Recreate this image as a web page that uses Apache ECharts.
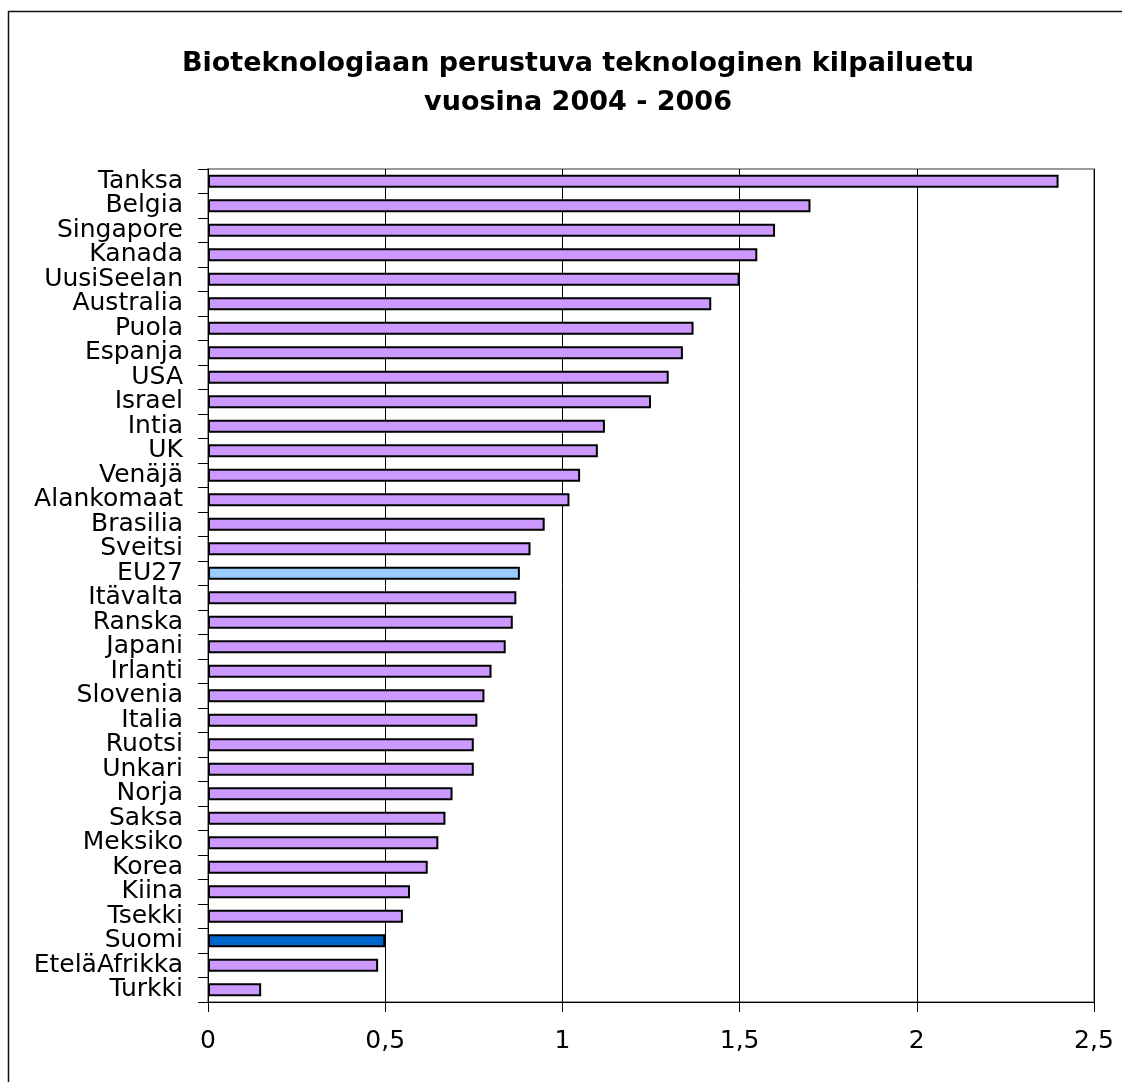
<!DOCTYPE html>
<html>
<head>
<meta charset="utf-8">
<script src="https://cdn.jsdelivr.net/npm/echarts@6/dist/echarts.min.js"></script>
<style>
  html, body { margin: 0; padding: 0; background: #fff; }
  #chart { width: 1122px; height: 1082px; }
</style>
</head>
<body>
<div id="chart"></div>
<script>
// maat ylhäältä alas
const maat = ['Tanksa', 'Belgia', 'Singapore', 'Kanada', 'UusiSeelan', 'Australia', 'Puola', 'Espanja',
  'USA', 'Israel', 'Intia', 'UK', 'Venäjä', 'Alankomaat', 'Brasilia', 'Sveitsi', 'EU27', 'Itävalta',
  'Ranska', 'Japani', 'Irlanti', 'Slovenia', 'Italia', 'Ruotsi', 'Unkari', 'Norja', 'Saksa', 'Meksiko',
  'Korea', 'Kiina', 'Tsekki', 'Suomi', 'EteläAfrikka', 'Turkki'];

const arvot = [2.40, 1.70, 1.60, 1.55, 1.50, 1.42, 1.37, 1.34, 1.30, 1.25, 1.12, 1.10, 1.05, 1.02,
  0.95, 0.91, 0.88, 0.87, 0.86, 0.84, 0.80, 0.78, 0.76, 0.75, 0.75, 0.69, 0.67, 0.65, 0.62, 0.57,
  0.55, 0.50, 0.48, 0.15];

const xTicks = [0, 0.5, 1, 1.5, 2, 2.5];

const erikoisvarit = { EU27: '#99CCFF', Suomi: '#0066CC' };
const perusvari = '#CC99FF';

const fontti = '"DejaVu Sans", "Liberation Sans", Arial, sans-serif';

const data = maat.map((m, i) => ({
  value: arvot[i],
  itemStyle: { color: erikoisvarit[m] || perusvari }
}));

const option = {
  backgroundColor: '#fff',
  animation: false,
  title: {
    text: 'Bioteknologiaan perustuva teknologinen kilpailuetu\nvuosina 2004 - 2006',
    left: 573,
    top: 39,
    textAlign: 'center',
    textStyle: {
      fontFamily: fontti,
      fontWeight: 'bold',
      fontSize: 27,
      lineHeight: 39,
      color: '#000'
    }
  },
  // kehys vain vasemmalla ja ylhäällä
  graphic: [{
    type: 'polyline',
    shape: { points: [[8.5, 1100], [8.5, 11.5], [1122, 11.5]] },
    style: { fill: null, stroke: '#111', lineWidth: 1.5 },
    silent: true
  }],
  grid: {
    left: 208,
    right: 28,
    top: 169,
    bottom: 80,
    show: true,
    borderColor: '#999',
    borderWidth: 2
  },
  xAxis: {
    type: 'value',
    min: 0,
    max: 2.5,
    interval: 0.5,
    axisLine: { show: true, lineStyle: { color: '#000', width: 1 } },
    axisTick: { show: true, length: 10, lineStyle: { color: '#000' } },
    splitLine: { show: true, lineStyle: { color: '#000', width: 1 } },
    axisLabel: {
      margin: 27,
      color: '#000',
      fontFamily: fontti,
      fontSize: 25,
      formatter: v => xTicks.includes(v) ? String(v).replace('.', ',') : ''
    }
  },
  yAxis: {
    type: 'category',
    data: maat,
    inverse: true,
    axisLine: { show: true, lineStyle: { color: '#000', width: 1 } },
    axisTick: { show: true, length: 10, lineStyle: { color: '#000' } },
    axisLabel: {
      interval: 0,
      margin: 25,
      color: '#000',
      fontFamily: fontti,
      fontSize: 25
    }
  },
  series: [{
    type: 'bar',
    data: data,
    barWidth: 13,
    itemStyle: {
      borderColor: '#000',
      borderWidth: 2
    }
  }]
};

echarts.init(document.getElementById('chart')).setOption(option);
</script>
</body>
</html>
